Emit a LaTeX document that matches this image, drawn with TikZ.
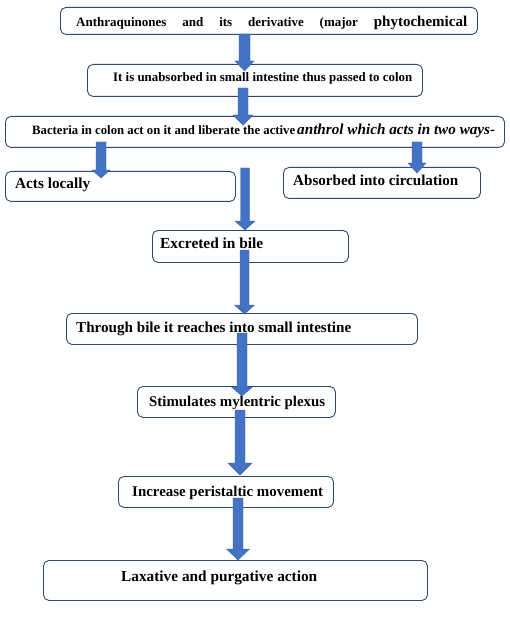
\documentclass[tikz,border=0pt]{standalone}
\usepackage{fontspec}
\usepackage{graphicx}
\setmainfont{Liberation Serif}
\setsansfont{Liberation Sans}
\definecolor{boxline}{RGB}{44,72,125}
\definecolor{arrowblue}{RGB}{68,114,196}
\definecolor{arrowedge}{RGB}{55,95,170}
\newcommand\fitw[2]{\resizebox{#1pt}{!}{#2}}
\newcommand\blockarr[6]{%
  \filldraw[fill=arrowblue,draw=arrowedge,line width=0.4pt]
    ({#1-#5},#2) -- ({#1+#5},#2) -- ({#1+#5},#3) -- ({#1+#6},#3) -- (#1,#4)
    -- ({#1-#6},#3) -- ({#1-#5},#3) -- cycle;}
\tikzset{
  flowbox/.style={draw=boxline,line width=0.9pt,rounded corners=5.5pt,fill=white,
    inner sep=0pt,anchor=north west},
  lbl/.style={anchor=base west,inner sep=0pt,font=\bfseries}
}
\newcommand\boxnode[5]{\node[flowbox,minimum width={(#4-#2)*1pt},minimum height={(#5-#3)*1pt}] (#1) at (#2,#3) {};}
\begin{document}
\begin{tikzpicture}[x=1pt,y=-1pt]
\useasboundingbox (0,0) rectangle (510,620);
\fill[white] (0,0) rectangle (510,620);
% boxes
\boxnode{b1}{60}{7}{477}{34}
\boxnode{b2}{87}{64}{422}{96}
\boxnode{b3}{5}{116}{504}{147}
\boxnode{b4}{5}{171}{235}{201}
\boxnode{b5}{283}{167}{480}{198}
\boxnode{b6}{152}{230}{348}{262}
\boxnode{b7}{66}{313}{417}{344}
\boxnode{b8}{137}{386}{335}{417}
\boxnode{b9}{118}{476}{333}{507}
\boxnode{b10}{43}{560}{427}{600}
% texts
\node[lbl] (t1) at (76,27) {\hbox to 391pt{\fontsize{13}{15}\selectfont Anthraquinones\hfill and\hfill its\hfill derivative\hfill (major\hfill {\fontsize{15}{17}\selectfont phytochemical}}};
\node[lbl] (t2) at (113,82) {\fitw{299}{It is unabsorbed in small intestine thus passed to colon}};
\node[lbl] (t3) at (32,135) {\fitw{263}{Bacteria in colon act on it and liberate the active}\hspace{2pt}\fitw{198}{\bfseries\itshape anthrol which acts in two ways-}};
\node[lbl] (t4) at (15,189) {\fitw{75}{Acts locally}};
\node[lbl] (t5) at (293,186) {\fitw{165}{Absorbed into circulation}};
\node[lbl] (t6) at (160,248) {\fitw{103}{Excreted in bile}};
\node[lbl] (t7) at (76,332) {\fitw{275}{Through bile it reaches into small intestine}};
\node[lbl] (t8) at (149,406) {\fitw{176}{Stimulates mylentric plexus}};
\node[lbl] (t9) at (132,496) {\fitw{191}{Increase peristaltic movement}};
\node[lbl] (t10) at (121,581) {\fitw{196}{Laxative and purgative action}};
% block arrows
\blockarr{244.5}{34}{61}{71}{5.5}{9.5}
\blockarr{243}{88}{115}{125}{5}{10}
\blockarr{101}{142}{170}{178}{5}{9}
\blockarr{417}{142}{163}{173}{5}{9}
\blockarr{245}{168}{221}{230}{4.5}{10}
\blockarr{244.5}{250}{305}{314}{4.5}{10}
\blockarr{242}{333}{387}{396}{5}{10.5}
\blockarr{240}{410}{463}{475}{5}{12}
\blockarr{238}{498}{549}{560}{5}{11.5}
\end{tikzpicture}
\end{document}
